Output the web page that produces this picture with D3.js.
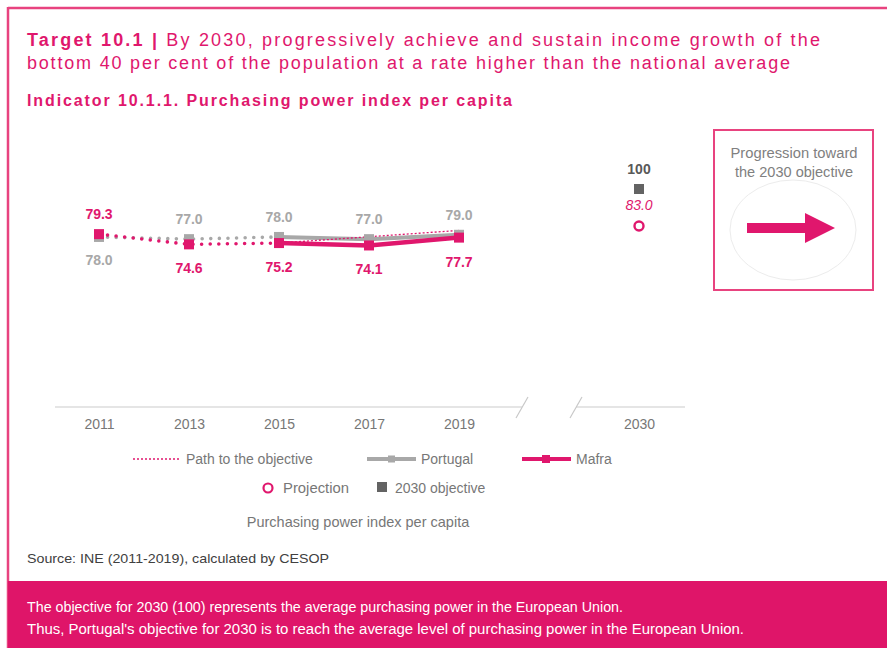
<!DOCTYPE html>
<html><head><meta charset="utf-8">
<script src="https://cdn.jsdelivr.net/npm/d3@7"></script>
<style>
html,body{margin:0;padding:0;background:#fff;}
svg{display:block;font-family:"Liberation Sans",Arial,sans-serif;}
</style></head>
<body><svg id="c" width="887" height="648"></svg>
<script>
const categories = ["2011","2013","2015","2017","2019","","2030"];
const years = ["2011","2013","2015","2017","2019"];
const mafraValues = [79.3, 74.6, 75.2, 74.1, 77.7];
const portugalValues = [78.0, 77.0, 78.0, 77.0, 79.0];
const pathYears = ["2015","2019"];
const pathValues = [75.2, 81.0];
const objectiveYear = "2030";
const objectiveValue = 100;
const projectionValue = 83.0;
const legendItems = ["Path to the objective","Portugal","Mafra","Projection","2030 objective"];

const PINK = "#e0176d", GRAY = "#a8a8a8", DARK = "#636363", TXT = "#777777";
const svg = d3.select("#c");

// frame
svg.append("rect").attr("x",0).attr("y",0).attr("width",887).attr("height",648).attr("fill","#fff");
svg.append("line").attr("x1",8).attr("x2",887).attr("y1",8).attr("y2",8).attr("stroke","#e8437f").attr("stroke-width",2.5);
svg.append("line").attr("x1",8).attr("x2",8).attr("y1",7).attr("y2",648).attr("stroke","#e8437f").attr("stroke-width",2.5);
svg.append("rect").attr("x",8).attr("y",581).attr("width",879).attr("height",67).attr("fill","#df1569");

// titles
const t1 = svg.append("text").attr("x",27).attr("y",46).attr("font-size",18).attr("fill",PINK)
  .attr("textLength",793).attr("lengthAdjust","spacing");
t1.append("tspan").attr("font-weight","bold").text("Target 10.1 | ");
t1.append("tspan").text("By 2030, progressively achieve and sustain income growth of the");
svg.append("text").attr("x",27).attr("y",69).attr("font-size",18).attr("fill",PINK)
  .attr("textLength",763).attr("lengthAdjust","spacing")
  .text("bottom 40 per cent of the population at a rate higher than the national average");
svg.append("text").attr("x",27).attr("y",106).attr("font-size",16).attr("font-weight","bold").attr("fill",PINK)
  .attr("textLength",485).attr("lengthAdjust","spacing")
  .text("Indicator 10.1.1. Purchasing power index per capita");

// scales
const x = d3.scalePoint().domain(categories).range([54,684]).padding(0.5);
const y = d3.scaleLinear().domain([0,100]).range([407,189]);

// axis
const axisG = svg.append("g").attr("transform","translate(0,407)")
  .call(d3.axisBottom(x).tickSize(0).tickPadding(12));
axisG.select(".domain").remove();
axisG.selectAll("text").attr("font-size",14).attr("fill",TXT).attr("font-family","Liberation Sans, Arial, sans-serif");
const gx = x("");
svg.append("line").attr("x1",55).attr("x2",gx-27).attr("y1",407).attr("y2",407).attr("stroke","#dcdcdc").attr("stroke-width",1.5);
svg.append("line").attr("x1",gx+27).attr("x2",685).attr("y1",407).attr("y2",407).attr("stroke","#dcdcdc").attr("stroke-width",1.5);
[gx-27, gx+27].forEach(cx=>{
  svg.append("line").attr("x1",cx-6).attr("x2",cx+6).attr("y1",418).attr("y2",397).attr("stroke","#c8c8c8").attr("stroke-width",1.2);
});

const line = d3.line().x(d=>x(d[0])).y(d=>y(d[1]));
const portPts = years.map((yr,i)=>[yr,portugalValues[i]]);
const mafPts = years.map((yr,i)=>[yr,mafraValues[i]]);
const split = years.indexOf("2015");

// dotted early segments
svg.append("path").attr("d",line(portPts.slice(0,split+1))).attr("fill","none")
  .attr("stroke",GRAY).attr("stroke-width",3.6).attr("stroke-linecap","round").attr("stroke-dasharray","0 8.6");
svg.append("path").attr("d",line(mafPts.slice(0,split+1))).attr("fill","none")
  .attr("stroke",PINK).attr("stroke-width",3.6).attr("stroke-linecap","round").attr("stroke-dasharray","0 8.6");
// solid portugal
svg.append("path").attr("d",line(portPts.slice(split))).attr("fill","none").attr("stroke",GRAY).attr("stroke-width",4);
// path to objective
svg.append("path").attr("d",line(pathYears.map((yr,i)=>[yr,pathValues[i]]))).attr("fill","none")
  .attr("stroke",PINK).attr("stroke-width",1.3).attr("stroke-dasharray","2 2");
// solid mafra
svg.append("path").attr("d",line(mafPts.slice(split))).attr("fill","none").attr("stroke",PINK).attr("stroke-width",4.5);

// markers
const S = 10;
svg.selectAll(".pm").data(portPts).enter().append("rect")
  .attr("x",d=>x(d[0])-S/2).attr("y",d=>y(d[1])-S/2).attr("width",S).attr("height",S).attr("fill",GRAY);
svg.selectAll(".mm").data(mafPts).enter().append("rect")
  .attr("x",d=>x(d[0])-S/2).attr("y",d=>y(d[1])-S/2).attr("width",S).attr("height",S).attr("fill",PINK);

// labels
portPts.forEach((d,i)=>{
  const above = i!==0;
  svg.append("text").attr("x",x(d[0])).attr("y",y(d[1])+(above?-20:23)).attr("dy","0.35em")
    .attr("text-anchor","middle").attr("font-size",14).attr("font-weight","bold").attr("fill",GRAY).text(d[1].toFixed(1));
});
mafPts.forEach((d,i)=>{
  const above = i===0;
  svg.append("text").attr("x",x(d[0])).attr("y",y(d[1])+(above?-20:24)).attr("dy","0.35em")
    .attr("text-anchor","middle").attr("font-size",14).attr("font-weight","bold").attr("fill",PINK).text(d[1].toFixed(1));
});

// 2030
const ox = x(objectiveYear);
svg.append("rect").attr("x",ox-5).attr("y",y(objectiveValue)-5).attr("width",10).attr("height",10).attr("fill",DARK);
svg.append("text").attr("x",ox).attr("y",y(objectiveValue)-20).attr("dy","0.35em").attr("text-anchor","middle")
  .attr("font-size",14).attr("font-weight","bold").attr("fill","#595959").text(String(objectiveValue));
svg.append("circle").attr("cx",ox).attr("cy",y(projectionValue)).attr("r",4.5).attr("fill","#fff").attr("stroke",PINK).attr("stroke-width",2.4);
svg.append("text").attr("x",ox).attr("y",y(projectionValue)-21).attr("dy","0.35em").attr("text-anchor","middle")
  .attr("font-size",14).attr("font-style","italic").attr("fill",PINK).text(projectionValue.toFixed(1));

// legend
const lg = svg.append("g").attr("font-size",14).attr("fill",TXT);
lg.append("line").attr("x1",133).attr("x2",180).attr("y1",459).attr("y2",459).attr("stroke",PINK).attr("stroke-width",1.3).attr("stroke-dasharray","2 2");
lg.append("text").attr("x",186).attr("y",459).attr("dy","0.35em").text(legendItems[0]);
lg.append("line").attr("x1",367).attr("x2",416).attr("y1",459).attr("y2",459).attr("stroke",GRAY).attr("stroke-width",4);
lg.append("rect").attr("x",388).attr("y",455.5).attr("width",7).attr("height",7).attr("fill",GRAY);
lg.append("text").attr("x",421).attr("y",459).attr("dy","0.35em").text(legendItems[1]);
lg.append("line").attr("x1",522).attr("x2",571).attr("y1",459).attr("y2",459).attr("stroke",PINK).attr("stroke-width",4);
lg.append("rect").attr("x",542).attr("y",455).attr("width",8).attr("height",8).attr("fill",PINK);
lg.append("text").attr("x",576).attr("y",459).attr("dy","0.35em").text(legendItems[2]);
lg.append("circle").attr("cx",268).attr("cy",488).attr("r",4.5).attr("fill","#fff").attr("stroke",PINK).attr("stroke-width",2.2);
lg.append("text").attr("x",283).attr("y",488).attr("dy","0.35em").attr("textLength",66).attr("lengthAdjust","spacingAndGlyphs").text(legendItems[3]);
lg.append("rect").attr("x",377).attr("y",482).attr("width",10).attr("height",10).attr("fill",DARK);
lg.append("text").attr("x",395).attr("y",488).attr("dy","0.35em").text(legendItems[4]);
lg.append("text").attr("x",358).attr("y",522).attr("dy","0.35em").attr("text-anchor","middle").attr("font-size",14.5).text("Purchasing power index per capita");

// source
svg.append("text").attr("x",27).attr("y",563).attr("font-size",13).attr("fill","#404040")
  .attr("textLength",302).attr("lengthAdjust","spacingAndGlyphs").text("Source: INE (2011-2019), calculated by CESOP");

// footer
svg.append("text").attr("x",27).attr("y",612).attr("font-size",14).attr("fill","#fff")
  .attr("textLength",596).attr("lengthAdjust","spacingAndGlyphs")
  .text("The objective for 2030 (100) represents the average purchasing power in the European Union.");
svg.append("text").attr("x",27).attr("y",634).attr("font-size",14).attr("fill","#fff")
  .attr("textLength",717).attr("lengthAdjust","spacingAndGlyphs")
  .text("Thus, Portugal's objective for 2030 is to reach the average level of purchasing power in the European Union.");

// progression box
svg.append("rect").attr("x",714).attr("y",130).attr("width",159).attr("height",160).attr("fill","#fff").attr("stroke","#e8437f").attr("stroke-width",2);
svg.append("ellipse").attr("cx",793).attr("cy",230).attr("rx",63).attr("ry",50).attr("fill","#fff").attr("stroke","#ececec").attr("stroke-width",1);
svg.append("text").attr("x",794).attr("y",153).attr("dy","0.35em").attr("text-anchor","middle").attr("font-size",14).attr("fill","#808080")
  .attr("textLength",127).attr("lengthAdjust","spacingAndGlyphs").text("Progression toward");
svg.append("text").attr("x",794).attr("y",172).attr("dy","0.35em").attr("text-anchor","middle").attr("font-size",14).attr("fill","#808080")
  .attr("textLength",118).attr("lengthAdjust","spacingAndGlyphs").text("the 2030 objective");
svg.append("path").attr("d","M747,223 L805,223 L805,213 L835,228 L805,243 L805,233 L747,233 Z").attr("fill",PINK);
</script></body></html>
